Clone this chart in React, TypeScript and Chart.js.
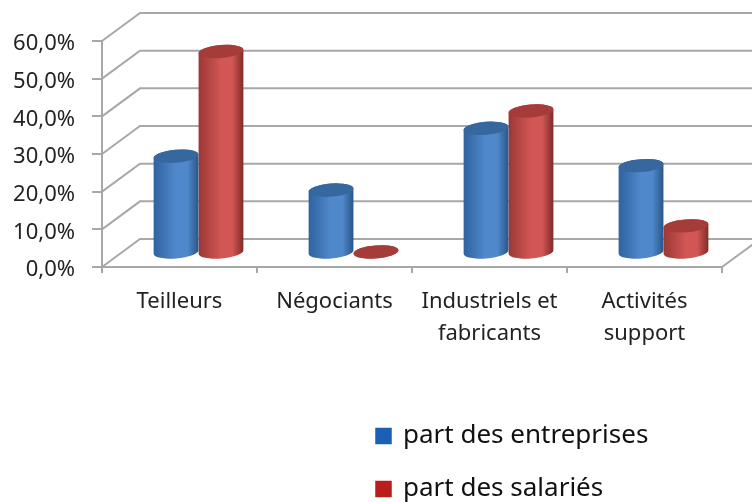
import React, { useEffect, useRef } from "react";
import { Chart, registerables } from "chart.js";

Chart.register(...registerables);

const categories = ["Teilleurs", "Négociants", ["Industriels et", "fabricants"], ["Activités", "support"]];
const entreprises = [25.7, 16.7, 33.1, 23.2];
const salaries = [53.5, 0.3, 37.7, 7.2];
const seriesNames = ["part des entreprises", "part des salariés"];
const legendColors = ["#1b5fb6", "#b91e1b"];
const bodyShades = [
  { edge: "#2f62a0", mid: "#5089cb", dark: "#2a5589", top: "#36689f" },
  { edge: "#9a3836", mid: "#d25654", dark: "#7f2b29", top: "#a63c3a" },
];

const DX = 38;
const DY = -28;
const GRID = "#a8a8a8";
const FONT = "'Noto Sans'";

const cylinderPlugin = {
  id: "cylinders",
  beforeDatasetsDraw(chart: any) {
    const { ctx, chartArea, scales } = chart;
    const yS = scales.y;
    ctx.save();
    ctx.strokeStyle = GRID;
    ctx.lineWidth = 2;
    yS.ticks.forEach((t: any) => {
      const y = yS.getPixelForValue(t.value);
      ctx.beginPath();
      ctx.moveTo(chartArea.left, y);
      ctx.lineTo(chartArea.left + DX, y + DY);
      ctx.lineTo(chartArea.right + DX, y + DY);
      ctx.stroke();
    });
    ctx.beginPath();
    ctx.moveTo(chartArea.right, chartArea.bottom);
    ctx.lineTo(chartArea.right + DX, chartArea.bottom + DY);
    ctx.stroke();
    ctx.restore();
  },
  beforeDatasetDraw(chart: any, args: any) {
    const { ctx } = chart;
    const meta = chart.getDatasetMeta(args.index);
    const c = bodyShades[args.index];
    const rot = -0.08;
    const ry = 6.5;
    meta.data.forEach((bar: any) => {
      const { x, y, base, width } = bar.getProps(["x", "y", "base", "width"], true);
      const rx = width / 2;
      const cx = x + DX / 2;
      const top = y + DY / 2;
      const bot = base + DY / 2;
      ctx.save();
      const g = ctx.createLinearGradient(cx - rx, 0, cx + rx, 0);
      g.addColorStop(0, c.edge);
      g.addColorStop(0.5, c.mid);
      g.addColorStop(0.75, c.mid);
      g.addColorStop(1, c.dark);
      ctx.fillStyle = g;
      ctx.beginPath();
      ctx.ellipse(cx, top, rx, ry, rot, Math.PI, 0, false);
      ctx.ellipse(cx, bot, rx, ry, rot, 0, Math.PI, false);
      ctx.closePath();
      ctx.fill();
      ctx.fillStyle = c.top;
      ctx.beginPath();
      ctx.ellipse(cx, top, rx, ry, rot, 0, Math.PI * 2);
      ctx.fill();
      ctx.restore();
    });
    return false;
  },
  afterLayout(chart: any) {
    const l = chart.legend;
    const pad = l.options.labels.padding;
    l.left = 377 - pad;
    l.right = 752;
    l.top = 423 - pad;
    l.bottom = 800;
    const items = chart.scales.y.getLabelItems(chart.chartArea);
    items.forEach((it: any) => { it.textOffset += 3; });
  },
};

export default function App() {
  const ref = useRef<HTMLCanvasElement>(null);
  useEffect(() => {
    const chart = new Chart(ref.current as HTMLCanvasElement, {
      type: "bar",
      data: {
        labels: categories as any,
        datasets: [
          { label: seriesNames[0], data: entreprises, backgroundColor: legendColors[0] },
          { label: seriesNames[1], data: salaries, backgroundColor: legendColors[1] },
        ],
      },
      plugins: [cylinderPlugin as any],
      options: {
        responsive: false,
        animation: false,
        layout: { padding: { left: 0, top: 41, right: 29, bottom: 0 } },
        datasets: { bar: { categoryPercentage: 0.58, barPercentage: 1 } },
        plugins: {
          tooltip: { enabled: false },
          legend: {
            position: "right",
            align: "start",
            maxWidth: 1,
            labels: {
              usePointStyle: true,
              pointStyle: "rect",
              boxWidth: 13,
              boxHeight: 16.5,
              padding: 27,
              color: "#111111",
              font: { family: FONT, size: 26 },
            },
          },
        },
        scales: {
          x: {
            afterFit(s: any) { s.height = 235; },
            border: { color: GRID, width: 2 },
            grid: { color: GRID, lineWidth: 2, drawOnChartArea: false, tickLength: 6, offset: true },
            ticks: {
              color: "#222222",
              padding: 13,
              maxRotation: 0,
              autoSkip: false,
              font: { family: FONT, size: 22, lineHeight: 1.45 },
            },
          },
          y: {
            min: 0,
            max: 60,
            afterFit(s: any) { s.width = 102; },
            border: { color: GRID, width: 2 },
            grid: { color: GRID, lineWidth: 2, drawOnChartArea: false, tickLength: 10 },
            ticks: {
              stepSize: 10,
              color: "#222222",
              padding: 17,
              font: { family: FONT, size: 22 },
              callback: (v: any) => Number(v).toFixed(1).replace(".", ",") + "%",
            },
          },
        },
      } as any,
    });
    return () => chart.destroy();
  }, []);
  return (
    <div style={{ position: "absolute", left: 0, top: 0, width: 752, height: 502, background: "#fff" }}>
      <canvas ref={ref} width={752} height={502} style={{ display: "block", filter: "blur(0.5px)" }} />
    </div>
  );
}
